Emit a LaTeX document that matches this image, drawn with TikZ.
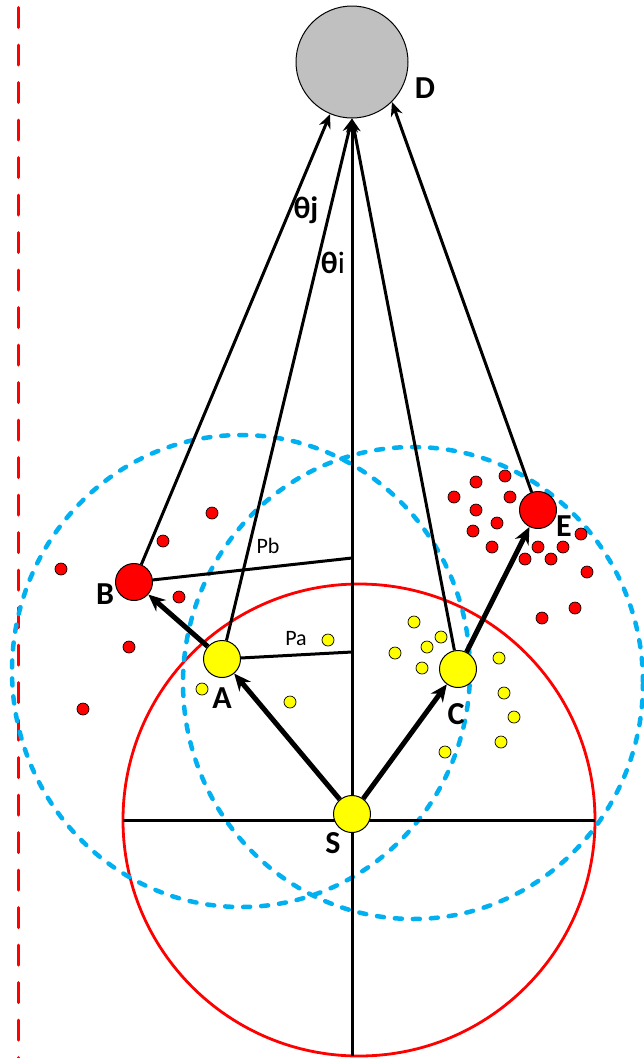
\documentclass[tikz,border=0pt]{standalone}
\usepackage{fontspec}
\setmainfont{Carlito}
\usetikzlibrary{arrows.meta, shapes.geometric}
\definecolor{skyblue}{RGB}{0, 176, 240}
\definecolor{discgray}{RGB}{192, 192, 192}
\definecolor{ptred}{RGB}{255, 0, 0}
\definecolor{ptyellow}{RGB}{255, 255, 0}

\begin{document}
\begin{tikzpicture}[
    x=1pt, y=-1pt,
    every node/.style={inner sep=0pt},
    letter/.style={
        font=\fontsize{32}{38}\selectfont\bfseries
    },
    smalllabel/.style={
        font=\fontsize{22}{26}\selectfont
    },
    anglelabel/.style={
        font=\fontsize{31}{37}\selectfont
    },
    target/.style={
        circle,
        draw=black,
        line width=1pt,
        fill=discgray,
        minimum size=112pt
    },
    bigpoint/.style={
        circle,
        draw=black,
        line width=1pt,
        minimum size=37pt
    },
    smalldot/.style={
        draw=black,
        line width=0.7pt
    },
    rangering/.style={
        draw=skyblue,
        line width=4.5pt,
        line cap=round,
        dash pattern=on 7pt off 11pt
    },
    thinarrow/.style={
        line width=3pt,
        -{Stealth[length=14pt, width=12pt]},
        draw=black
    },
    thickarrow/.style={
        line width=5pt,
        -{Stealth[length=17pt, width=15pt]},
        draw=black
    },
    axisline/.style={
        line width=3pt,
        draw=black
    }
]
\useasboundingbox (0,0) rectangle (644,1058);

% ==================== BOUNDARY AND RANGES ====================

\draw [ptred, line width=3pt, line cap=round, dash pattern=on 20pt off 17.5pt] (18,7.5) -- (18,1058);

\draw [ptred, line width=2.8pt] (359,820) circle [radius=236pt];
\draw [rangering] (241,671) ellipse [x radius=229pt, y radius=236pt];
\draw [rangering] (413,683) ellipse [x radius=230pt, y radius=236pt];

% ==================== SCATTERED POINTS ====================

\foreach \px/\py in {212/513, 163/541, 61/569, 179/597, 129/647, 83/709,
    505/476, 476/482, 454/497, 510/497, 476/510, 497/523, 473/531,
    492/547, 538/547, 563/547, 581/534, 525/559, 551/559, 587/572,
    575/608, 542/618}
    \filldraw [smalldot, fill=ptred] (\px,\py) circle [radius=6pt];

\foreach \px/\py in {328/640, 202/689, 290/702, 414/622, 441/637, 427/647,
    395/653, 422/668, 499/658, 504/693, 514/717, 501/742, 445/752}
    \filldraw [smalldot, fill=ptyellow] (\px,\py) circle [radius=6pt];

% ==================== AXES ====================

\node (D) [target] at (352,62) {};
\coordinate (axisbot) at (352,1056);
\coordinate (hleft) at (123,820);
\coordinate (hright) at (595,820);
\coordinate (pb) at (352,558);
\coordinate (pa) at (352,652);

\draw [thinarrow] (axisbot) -- (D.south);
\draw [axisline] (hleft) -- (hright);

% ==================== POINTS ====================

\node (S) [bigpoint, fill=ptyellow] at (352,814) {};
\node (A) [bigpoint, fill=ptyellow] at (222,659) {};
\node (C) [bigpoint, fill=ptyellow] at (458,669) {};
\node (B) [bigpoint, fill=ptred] at (134,582) {};
\node (E) [bigpoint, fill=ptred] at (538,510) {};

% Connections
\draw [thickarrow] (S) -- (A);
\draw [thickarrow] (S) -- (C);
\draw [thickarrow] (A) -- (B);
\draw [thickarrow] (C) -- (E);

\draw [thinarrow] (B) -- (D);
\draw [thinarrow] (A) -- (D.south);
\draw [thinarrow] (C) -- (D.south);
\draw [thinarrow] (E) -- (D.-45);

\draw [axisline] (B) -- (pb);
\draw [axisline] (A) -- (pa);

% Labels
\node (labD) [letter] at (425,88) {D};
\node (labB) [letter] at (105,594) {B};
\node (labA) [letter] at (222,698) {A};
\node (labC) [letter] at (456,714) {C};
\node (labE) [letter] at (564,526) {E};
\node (labS) [letter] at (333,843) {S};
\node (labPb) [smalllabel] at (268,546) {Pb};
\node (labPa) [smalllabel] at (296,639) {Pa};
\node (labtj) [anglelabel] at (306,210) {\textbf{θj}};
\node (labti) [anglelabel] at (333,263) {\textbf{θ}i};

\end{tikzpicture}
\end{document}
